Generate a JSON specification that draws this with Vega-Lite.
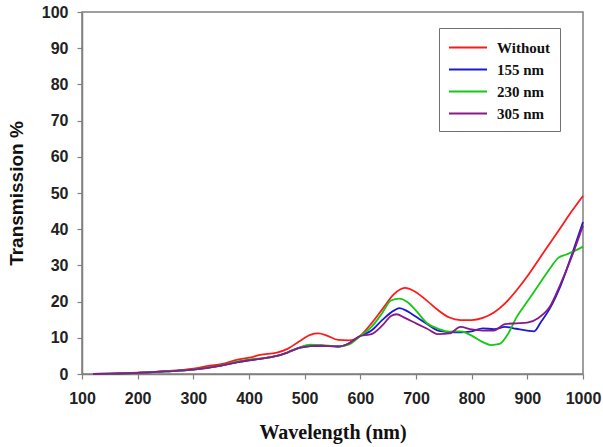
{
  "$schema": "https://vega.github.io/schema/vega-lite/v6.json",
  "width": 501,
  "height": 362,
  "autosize": "none",
  "padding": {"left": 82, "top": 12, "right": 20, "bottom": 73},
  "background": "white",
  "config": {
    "view": {"stroke": "#808080", "strokeWidth": 1.5},
    "axis": {"grid": false, "domainColor": "#808080", "domainWidth": 1.5, "tickColor": "#808080", "tickSize": 5, "tickWidth": 1.2,
      "labelFont": "Liberation Sans", "labelFontWeight": "bold", "labelFontSize": 16, "labelColor": "#222222",
      "titleColor": "#111111"}
  },
  "data": {"values": [
    {"s":"Without","w":165,"t":0.2},{"s":"Without","w":200,"t":0.4},{"s":"Without","w":250,"t":0.8},{"s":"Without","w":300,"t":1.5},{"s":"Without","w":330,"t":2.3},{"s":"Without","w":350,"t":2.7},{"s":"Without","w":380,"t":4},{"s":"Without","w":400,"t":4.5},{"s":"Without","w":420,"t":5.3},{"s":"Without","w":450,"t":5.9},{"s":"Without","w":470,"t":7},{"s":"Without","w":490,"t":9},{"s":"Without","w":510,"t":10.8},{"s":"Without","w":525,"t":11.2},{"s":"Without","w":540,"t":10.6},{"s":"Without","w":560,"t":9.4},{"s":"Without","w":580,"t":9.3},{"s":"Without","w":600,"t":10.6},{"s":"Without","w":620,"t":14},{"s":"Without","w":640,"t":18},{"s":"Without","w":660,"t":22},{"s":"Without","w":680,"t":23.8},{"s":"Without","w":700,"t":22.6},{"s":"Without","w":720,"t":20.2},{"s":"Without","w":740,"t":17.6},{"s":"Without","w":760,"t":15.6},{"s":"Without","w":780,"t":14.9},{"s":"Without","w":800,"t":14.9},{"s":"Without","w":820,"t":15.5},{"s":"Without","w":840,"t":17},{"s":"Without","w":860,"t":19.5},{"s":"Without","w":880,"t":23},{"s":"Without","w":900,"t":27},{"s":"Without","w":920,"t":31.5},{"s":"Without","w":940,"t":36},{"s":"Without","w":960,"t":40.5},{"s":"Without","w":980,"t":45},{"s":"Without","w":1000,"t":49.2},
    {"s":"155 nm","w":120,"t":0},{"s":"155 nm","w":150,"t":0.1},{"s":"155 nm","w":200,"t":0.3},{"s":"155 nm","w":250,"t":0.7},{"s":"155 nm","w":300,"t":1.2},{"s":"155 nm","w":350,"t":2.3},{"s":"155 nm","w":380,"t":3.3},{"s":"155 nm","w":400,"t":3.8},{"s":"155 nm","w":420,"t":4.2},{"s":"155 nm","w":450,"t":5},{"s":"155 nm","w":470,"t":6},{"s":"155 nm","w":490,"t":7.2},{"s":"155 nm","w":510,"t":7.7},{"s":"155 nm","w":530,"t":7.8},{"s":"155 nm","w":560,"t":7.6},{"s":"155 nm","w":580,"t":8.5},{"s":"155 nm","w":600,"t":10.5},{"s":"155 nm","w":620,"t":12},{"s":"155 nm","w":640,"t":15},{"s":"155 nm","w":660,"t":17.5},{"s":"155 nm","w":670,"t":18.2},{"s":"155 nm","w":685,"t":17.3},{"s":"155 nm","w":700,"t":15.8},{"s":"155 nm","w":720,"t":13.8},{"s":"155 nm","w":740,"t":12},{"s":"155 nm","w":760,"t":11.6},{"s":"155 nm","w":780,"t":11.5},{"s":"155 nm","w":800,"t":11.8},{"s":"155 nm","w":820,"t":12.6},{"s":"155 nm","w":840,"t":12.4},{"s":"155 nm","w":860,"t":13},{"s":"155 nm","w":880,"t":12.5},{"s":"155 nm","w":900,"t":12},{"s":"155 nm","w":912,"t":11.8},{"s":"155 nm","w":925,"t":14.5},{"s":"155 nm","w":940,"t":18},{"s":"155 nm","w":960,"t":24.5},{"s":"155 nm","w":980,"t":33},{"s":"155 nm","w":1000,"t":42},
    {"s":"230 nm","w":120,"t":0},{"s":"230 nm","w":150,"t":0.1},{"s":"230 nm","w":200,"t":0.3},{"s":"230 nm","w":250,"t":0.7},{"s":"230 nm","w":300,"t":1.3},{"s":"230 nm","w":350,"t":2.4},{"s":"230 nm","w":380,"t":3.5},{"s":"230 nm","w":400,"t":4},{"s":"230 nm","w":420,"t":4.3},{"s":"230 nm","w":450,"t":5},{"s":"230 nm","w":470,"t":6},{"s":"230 nm","w":490,"t":7.3},{"s":"230 nm","w":510,"t":8.1},{"s":"230 nm","w":530,"t":8},{"s":"230 nm","w":560,"t":7.6},{"s":"230 nm","w":580,"t":8.2},{"s":"230 nm","w":600,"t":10.5},{"s":"230 nm","w":620,"t":13},{"s":"230 nm","w":640,"t":17},{"s":"230 nm","w":655,"t":20.3},{"s":"230 nm","w":670,"t":20.8},{"s":"230 nm","w":685,"t":19.8},{"s":"230 nm","w":700,"t":17.5},{"s":"230 nm","w":720,"t":14},{"s":"230 nm","w":740,"t":12.5},{"s":"230 nm","w":760,"t":11.7},{"s":"230 nm","w":780,"t":11.8},{"s":"230 nm","w":800,"t":10.6},{"s":"230 nm","w":820,"t":8.8},{"s":"230 nm","w":835,"t":8},{"s":"230 nm","w":850,"t":8.3},{"s":"230 nm","w":865,"t":11},{"s":"230 nm","w":880,"t":15.5},{"s":"230 nm","w":900,"t":20},{"s":"230 nm","w":920,"t":24.5},{"s":"230 nm","w":940,"t":29},{"s":"230 nm","w":955,"t":32},{"s":"230 nm","w":970,"t":33},{"s":"230 nm","w":985,"t":34},{"s":"230 nm","w":1000,"t":35.2},
    {"s":"305 nm","w":120,"t":0},{"s":"305 nm","w":150,"t":0.1},{"s":"305 nm","w":200,"t":0.3},{"s":"305 nm","w":250,"t":0.7},{"s":"305 nm","w":300,"t":1.2},{"s":"305 nm","w":350,"t":2.3},{"s":"305 nm","w":380,"t":3.3},{"s":"305 nm","w":400,"t":3.8},{"s":"305 nm","w":420,"t":4.2},{"s":"305 nm","w":450,"t":5},{"s":"305 nm","w":470,"t":6},{"s":"305 nm","w":490,"t":7.2},{"s":"305 nm","w":510,"t":7.7},{"s":"305 nm","w":530,"t":7.8},{"s":"305 nm","w":560,"t":7.6},{"s":"305 nm","w":580,"t":8.5},{"s":"305 nm","w":600,"t":10.5},{"s":"305 nm","w":620,"t":11},{"s":"305 nm","w":640,"t":13.5},{"s":"305 nm","w":655,"t":16},{"s":"305 nm","w":665,"t":16.5},{"s":"305 nm","w":680,"t":15.5},{"s":"305 nm","w":700,"t":14},{"s":"305 nm","w":720,"t":12.5},{"s":"305 nm","w":740,"t":11},{"s":"305 nm","w":760,"t":11.2},{"s":"305 nm","w":780,"t":13},{"s":"305 nm","w":800,"t":12.3},{"s":"305 nm","w":820,"t":12},{"s":"305 nm","w":840,"t":12},{"s":"305 nm","w":860,"t":13.8},{"s":"305 nm","w":880,"t":14},{"s":"305 nm","w":900,"t":14.2},{"s":"305 nm","w":920,"t":15.5},{"s":"305 nm","w":940,"t":18.5},{"s":"305 nm","w":960,"t":25},{"s":"305 nm","w":980,"t":32.5},{"s":"305 nm","w":1000,"t":41}
  ]},
  "mark": {"type": "line", "strokeWidth": 1.8, "interpolate": "monotone"},
  "encoding": {
    "x": {"field": "w", "type": "quantitative",
      "scale": {"domain": [100, 1000], "nice": false, "zero": false},
      "axis": {"values": [100,200,300,400,500,600,700,800,900,1000], "format": "d", "labelPadding": 11, "labelFlush": false,
        "title": "Wavelength (nm)", "titleFont": "Liberation Serif", "titleFontWeight": "bold", "titleFontSize": 20, "titlePadding": 16}},
    "y": {"field": "t", "type": "quantitative",
      "scale": {"domain": [0, 100], "nice": false},
      "axis": {"values": [0,10,20,30,40,50,60,70,80,90,100], "format": "d", "labelPadding": 9, "labelFlush": false,
        "title": "Transmission %", "titleFont": "Liberation Sans", "titleFontWeight": "bold", "titleFontSize": 19, "titlePadding": 15}},
    "color": {"field": "s", "type": "nominal",
      "scale": {"domain": ["Without", "155 nm", "230 nm", "305 nm"], "range": ["#ff1a1a", "#1a1ad6", "#14c814", "#8a1a8a"]},
      "legend": {"orient": "none", "legendX": 357, "legendY": 16, "title": null,
        "strokeColor": "#707070", "padding": 9, "fillColor": "white",
        "symbolType": "M-1,0L3,0", "symbolSize": 361, "symbolStrokeWidth": 2, "rowPadding": 3,
        "labelFont": "Liberation Serif", "labelFontWeight": "bold", "labelFontSize": 15, "labelColor": "#111111", "labelOffset": 28}},
    "order": {"value": 0}
  }
}
